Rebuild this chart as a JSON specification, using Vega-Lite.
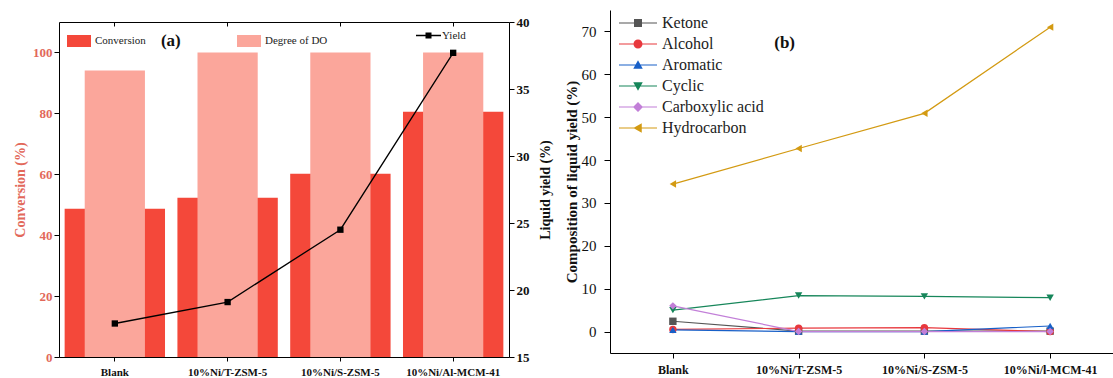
{
  "$schema": "https://vega.github.io/schema/vega-lite/v6.json",
  "padding": {"left": 13, "top": 10, "right": 0, "bottom": 0},
  "spacing": 12,
  "config": {
    "font": "Liberation Serif",
    "view": {"stroke": null},
    "axis": {"domainColor": "black", "tickColor": "black", "grid": false, "labelFont": "Liberation Serif", "titleFont": "Liberation Serif", "labelColor": "#111", "titleColor": "#111"},
    "legend": {"labelFont": "Liberation Serif"}
  },
  "datasets": {
    "a": [
      {"catalyst": "Blank", "conversion": 48.7, "do": 94.1, "yield": 17.5},
      {"catalyst": "10%Ni/T-ZSM-5", "conversion": 52.3, "do": 100, "yield": 19.1},
      {"catalyst": "10%Ni/S-ZSM-5", "conversion": 60.2, "do": 100, "yield": 24.5},
      {"catalyst": "10%Ni/Al-MCM-41", "conversion": 80.5, "do": 100, "yield": 37.7}
    ],
    "b": [
      {"catalyst": "Blank", "series": "Ketone", "value": 2.4},
      {"catalyst": "10%Ni/T-ZSM-5", "series": "Ketone", "value": 0.1},
      {"catalyst": "10%Ni/S-ZSM-5", "series": "Ketone", "value": 0.1},
      {"catalyst": "10%Ni/l-MCM-41", "series": "Ketone", "value": 0.1},
      {"catalyst": "Blank", "series": "Alcohol", "value": 0.5},
      {"catalyst": "10%Ni/T-ZSM-5", "series": "Alcohol", "value": 0.8},
      {"catalyst": "10%Ni/S-ZSM-5", "series": "Alcohol", "value": 0.9},
      {"catalyst": "10%Ni/l-MCM-41", "series": "Alcohol", "value": 0.0},
      {"catalyst": "Blank", "series": "Aromatic", "value": 0.4},
      {"catalyst": "10%Ni/T-ZSM-5", "series": "Aromatic", "value": 0.0},
      {"catalyst": "10%Ni/S-ZSM-5", "series": "Aromatic", "value": 0.0},
      {"catalyst": "10%Ni/l-MCM-41", "series": "Aromatic", "value": 1.3},
      {"catalyst": "Blank", "series": "Cyclic", "value": 5.0},
      {"catalyst": "10%Ni/T-ZSM-5", "series": "Cyclic", "value": 8.4},
      {"catalyst": "10%Ni/S-ZSM-5", "series": "Cyclic", "value": 8.2},
      {"catalyst": "10%Ni/l-MCM-41", "series": "Cyclic", "value": 7.9},
      {"catalyst": "Blank", "series": "Carboxylic acid", "value": 6.0},
      {"catalyst": "10%Ni/T-ZSM-5", "series": "Carboxylic acid", "value": 0.0},
      {"catalyst": "10%Ni/S-ZSM-5", "series": "Carboxylic acid", "value": 0.0},
      {"catalyst": "10%Ni/l-MCM-41", "series": "Carboxylic acid", "value": 0.0},
      {"catalyst": "Blank", "series": "Hydrocarbon", "value": 34.4},
      {"catalyst": "10%Ni/T-ZSM-5", "series": "Hydrocarbon", "value": 42.7},
      {"catalyst": "10%Ni/S-ZSM-5", "series": "Hydrocarbon", "value": 50.9},
      {"catalyst": "10%Ni/l-MCM-41", "series": "Hydrocarbon", "value": 71.0}
    ]
  },
  "hconcat": [
    {
      "width": 450,
      "height": 347,
      "data": {"name": "a"},
      "layer": [
        {
          "layer": [
            {
              "mark": {"type": "bar", "opacity": 1},
              "encoding": {
                "x": {"field": "catalyst", "type": "nominal", "sort": ["Blank", "10%Ni/T-ZSM-5", "10%Ni/S-ZSM-5", "10%Ni/Al-MCM-41"], "scale": {"paddingInner": 0.11, "paddingOuter": 0.05},
                  "axis": {"orient": "bottom", "title": null, "labelAngle": 0, "labelFontSize": 11, "labelFontWeight": "bold", "labelPadding": 5, "tickSize": 4, "domain": true}},
                "y": {"field": "conversion", "type": "quantitative", "scale": {"domain": [0, 110], "nice": false, "range": [347, 12]},
                  "axis": {"orient": "left", "title": "Conversion (%)", "values": [0, 10, 20, 30, 40, 50, 60, 70, 80, 90, 100],
                    "labelExpr": "datum.value % 20 === 0 ? datum.label : ''",
                    "tickSize": {"condition": {"test": "datum.value % 20 === 0", "value": 5}, "value": 3},
                    "labelColor": "#e2685a", "titleColor": "#e2685a", "labelFontSize": 13, "labelFontWeight": "bold", "titleFontSize": 14, "titleFontWeight": "bold", "labelPadding": 2, "titlePadding": 5}},
                "color": {"datum": "Conversion", "scale": {"domain": ["Conversion", "Degree of DO"], "range": ["#f4483a", "#fba69b"]},
                  "legend": {"orient": "none", "legendX": 8, "legendY": 19, "direction": "horizontal", "columns": 2, "columnPadding": 91, "title": null,
                    "symbolType": "M-1,-0.5H1V0.5H-1Z", "symbolSize": 576, "symbolStrokeWidth": 0, "labelFontSize": 11, "labelColor": "#222", "labelOffset": 4}}
              }
            },
            {
              "mark": {"type": "bar", "opacity": 1, "width": {"band": 0.6}},
              "encoding": {
                "x": {"field": "catalyst", "type": "nominal", "sort": ["Blank", "10%Ni/T-ZSM-5", "10%Ni/S-ZSM-5", "10%Ni/Al-MCM-41"]},
                "y": {"field": "do", "type": "quantitative"},
                "color": {"datum": "Degree of DO"}
              }
            },
            {
              "data": {"values": [{"tag": "(a)"}]},
              "mark": {"type": "text", "fontSize": 17, "fontWeight": "bold", "dx": 56, "baseline": "middle", "color": "#111"},
              "encoding": {
                "text": {"field": "tag", "type": "nominal"},
                "x": {"datum": "Blank", "type": "nominal"},
                "y": {"datum": 103.8, "type": "quantitative"}
              }
            }
          ]
        },
        {
          "layer": [
            {
              "mark": {"type": "line", "color": "black", "strokeWidth": 1.3},
              "encoding": {
                "x": {"field": "catalyst", "type": "nominal", "sort": ["Blank", "10%Ni/T-ZSM-5", "10%Ni/S-ZSM-5", "10%Ni/Al-MCM-41"],
                  "axis": {"orient": "top", "offset": -12, "title": null, "labels": false, "domain": true, "tickSize": -4}},
                "y": {"field": "yield", "type": "quantitative", "scale": {"domain": [15, 40], "nice": false, "zero": false, "range": [347, 12]},
                  "axis": {"orient": "right", "title": "Liquid yield (%)", "titleAngle": 270, "titleBaseline": "top", "values": [15, 17.5, 20, 22.5, 25, 27.5, 30, 32.5, 35, 37.5, 40],
                    "labelExpr": "datum.value % 5 === 0 ? datum.label : ''",
                    "tickSize": {"condition": {"test": "datum.value % 5 === 0", "value": 5}, "value": 3},
                    "labelFontSize": 13, "labelFontWeight": "bold", "titleFontSize": 14, "titleFontWeight": "bold", "labelPadding": 2, "titlePadding": 9}}
              }
            },
            {
              "mark": {"type": "point", "shape": "square", "filled": true, "color": "black", "size": 40, "opacity": 1},
              "encoding": {
                "x": {"field": "catalyst", "type": "nominal", "sort": ["Blank", "10%Ni/T-ZSM-5", "10%Ni/S-ZSM-5", "10%Ni/Al-MCM-41"],
                  "axis": {"orient": "top", "offset": -12, "title": null, "labels": false, "domain": true, "tickSize": -4}},
                "y": {"field": "yield", "type": "quantitative"}
              }
            },
            {
              "mark": {"type": "point", "filled": true, "color": "black", "size": 0, "opacity": 0},
              "encoding": {
                "x": {"field": "catalyst", "type": "nominal", "sort": ["Blank", "10%Ni/T-ZSM-5", "10%Ni/S-ZSM-5", "10%Ni/Al-MCM-41"],
                  "axis": {"orient": "top", "offset": -12, "title": null, "labels": false, "domain": true, "tickSize": -4}},
                "y": {"field": "yield", "type": "quantitative"},
                "shape": {"datum": "Yield", "scale": {"domain": ["Yield"], "range": ["M-2.5,-0.13H2.5V0.13H-2.5ZM-0.6,-0.6H0.6V0.6H-0.6Z"]},
                  "legend": {"orient": "none", "legendX": 364, "legendY": 20, "title": null, "symbolSize": 100, "symbolFillColor": "black", "symbolStrokeWidth": 0, "symbolOpacity": 1,
                    "labelFontSize": 11, "labelColor": "#222", "labelOffset": 8}}
              }
            }
          ]
        }
      ],
      "resolve": {"scale": {"y": "independent", "shape": "independent"}, "axis": {"x": "independent"}}
    },
    {
      "width": 503,
      "height": 343,
      "data": {"name": "b"},
      "layer": [
        {
          "mark": {"type": "line", "strokeWidth": 1.2},
          "encoding": {
            "x": {"field": "catalyst", "type": "nominal", "sort": ["Blank", "10%Ni/T-ZSM-5", "10%Ni/S-ZSM-5", "10%Ni/l-MCM-41"],
              "axis": {"title": null, "labelAngle": 0, "labelFontSize": 12, "labelFontWeight": "bold", "labelPadding": 6, "tickSize": 5}},
            "y": {"field": "value", "type": "quantitative", "scale": {"domain": [-5, 75], "nice": false},
              "axis": {"title": "Composition of liquid yield (%)", "values": [0, 5, 10, 15, 20, 25, 30, 35, 40, 45, 50, 55, 60, 65, 70],
                "labelExpr": "datum.value % 10 === 0 ? datum.label : ''",
                "tickSize": {"condition": {"test": "datum.value % 10 === 0", "value": 6}, "value": 3},
                "labelFontSize": 15, "titleFontSize": 15, "titleFontWeight": "bold", "labelPadding": 8, "titlePadding": 2}},
            "color": {"field": "series", "type": "nominal",
              "scale": {"domain": ["Ketone", "Alcohol", "Aromatic", "Cyclic", "Carboxylic acid", "Hydrocarbon"], "range": ["#555555", "#e8383d", "#1860c8", "#16865a", "#c27fd8", "#d39a12"]},
              "legend": null}
          }
        },
        {
          "mark": {"type": "point", "filled": true, "opacity": 1, "size": 55},
          "encoding": {
            "x": {"field": "catalyst", "type": "nominal", "sort": ["Blank", "10%Ni/T-ZSM-5", "10%Ni/S-ZSM-5", "10%Ni/l-MCM-41"]},
            "y": {"field": "value", "type": "quantitative"},
            "color": {"field": "series", "type": "nominal",
              "scale": {"domain": ["Ketone", "Alcohol", "Aromatic", "Cyclic", "Carboxylic acid", "Hydrocarbon"], "range": ["#555555", "#e8383d", "#1860c8", "#16865a", "#c27fd8", "#d39a12"]},
              "legend": null},
            "shape": {"field": "series", "type": "nominal",
              "scale": {"domain": ["Ketone", "Alcohol", "Aromatic", "Cyclic", "Carboxylic acid", "Hydrocarbon"], "range": ["square", "circle", "triangle-up", "triangle-down", "diamond", "triangle-left"]},
              "legend": null}
          }
        },
        {
          "mark": {"type": "point", "filled": true, "opacity": 0, "size": 0},
          "encoding": {
            "x": {"field": "catalyst", "type": "nominal", "sort": ["Blank", "10%Ni/T-ZSM-5", "10%Ni/S-ZSM-5", "10%Ni/l-MCM-41"]},
            "y": {"field": "value", "type": "quantitative"},
            "color": {"field": "series", "type": "nominal",
              "scale": {"domain": ["Ketone", "Alcohol", "Aromatic", "Cyclic", "Carboxylic acid", "Hydrocarbon"], "range": ["#555555", "#e8383d", "#1860c8", "#16865a", "#c27fd8", "#d39a12"]},
              "legend": {"orient": "none", "legendX": 20, "legendY": 5, "title": null, "symbolSize": 100, "symbolStrokeWidth": 0, "symbolOpacity": 1, "labelFontSize": 16, "labelColor": "#222", "labelOffset": 16, "rowPadding": 5}},
            "shape": {"field": "series", "type": "nominal",
              "scale": {"domain": ["Ketone", "Alcohol", "Aromatic", "Cyclic", "Carboxylic acid", "Hydrocarbon"], "range": [
                "M-3.8,-0.12H3.8V0.12H-3.8ZM-0.8,-0.8H0.8V0.8H-0.8Z",
                "M-3.8,-0.12H3.8V0.12H-3.8ZM-0.9,0A0.9,0.9 0 1,1 0.9,0A0.9,0.9 0 1,1 -0.9,0Z",
                "M-3.8,-0.12H3.8V0.12H-3.8ZM0,-0.95L0.95,0.75H-0.95Z",
                "M-3.8,-0.12H3.8V0.12H-3.8ZM0,0.95L-0.95,-0.75H0.95Z",
                "M-3.8,-0.12H3.8V0.12H-3.8ZM0,-1L1,0L0,1L-1,0Z",
                "M-3.8,-0.12H3.8V0.12H-3.8ZM-0.95,0L0.75,-0.95V0.95Z"]},
              "legend": {"orient": "none", "legendX": 20, "legendY": 5, "title": null, "symbolSize": 100, "symbolStrokeWidth": 0, "symbolOpacity": 1, "labelFontSize": 16, "labelColor": "#222", "labelOffset": 16, "rowPadding": 5}}
          }
        },
        {
          "data": {"values": [{"tag": "(b)"}]},
          "mark": {"type": "text", "fontSize": 17, "fontWeight": "bold", "dx": -14, "baseline": "middle", "color": "#111"},
          "encoding": {
            "text": {"field": "tag", "type": "nominal"},
            "x": {"datum": "10%Ni/T-ZSM-5", "type": "nominal"},
            "y": {"datum": 67.3, "type": "quantitative"}
          }
        }
      ],
      "resolve": {"scale": {"shape": "independent", "color": "independent"}}
    }
  ]
}
